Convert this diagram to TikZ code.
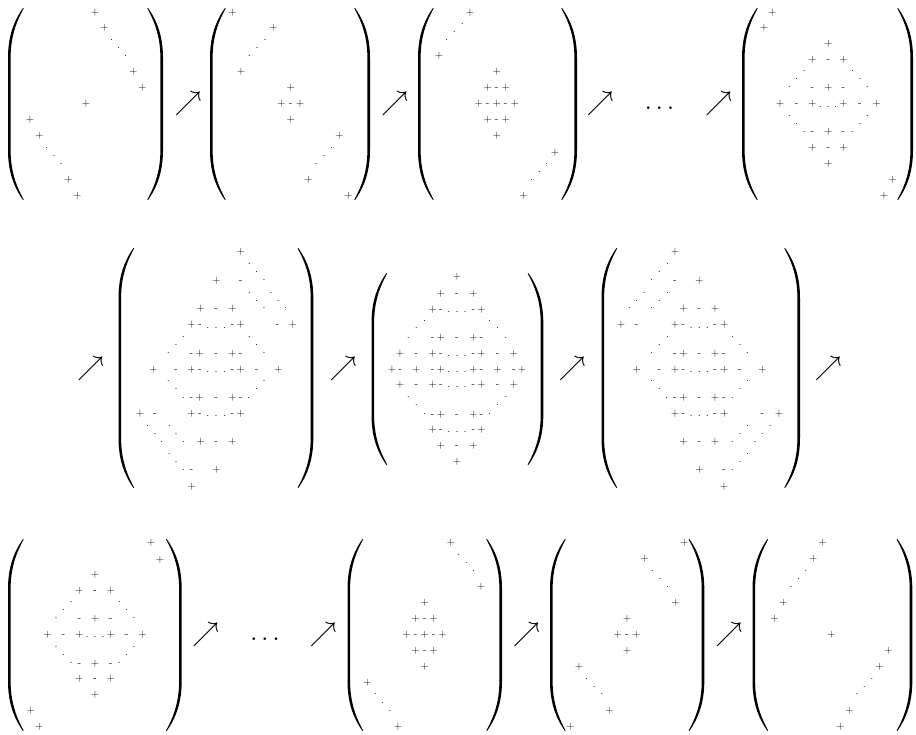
\documentclass[tikz,border=0pt]{standalone}
\usepackage{graphicx}
\tikzset{
  pl/.style    = {inner sep=0pt, font=\fontsize{11}{13}\selectfont,
                  text height=6.41pt, text depth=0.91pt},
  mi/.style    = {inner sep=0pt, font=\fontsize{11}{13}\selectfont,
                  text height=6.41pt, text depth=0.91pt},
  dt/.style    = {inner sep=0pt, font=\fontsize{11}{13}\selectfont,
                  text height=1.17pt, text depth=0pt},
  arr/.style   = {inner sep=0pt},
  ell/.style   = {inner sep=0pt, anchor=base}
}
% big parentheses: outer x, top y, bottom y
\newcommand{\mlpar}[3]{\fill (#1+15,#2) .. controls (#1+5,#2+14) and (#1,#2+30) .. (#1,#2+50)
    -- (#1,#3-50) .. controls (#1,#3-30) and (#1+5,#3-14) .. (#1+15,#3)
    -- (#1+15.7,#3-0.4) .. controls (#1+7.6,#3-15) and (#1+2.6,#3-30) .. (#1+2.6,#3-50)
    -- (#1+2.6,#2+50) .. controls (#1+2.6,#2+30) and (#1+7.6,#2+15) .. (#1+15.7,#2+0.4) -- cycle;}
\newcommand{\mrpar}[3]{\fill (#1-15,#2) .. controls (#1-5,#2+14) and (#1,#2+30) .. (#1,#2+50)
    -- (#1,#3-50) .. controls (#1,#3-30) and (#1-5,#3-14) .. (#1-15,#3)
    -- (#1-15.7,#3-0.4) .. controls (#1-7.6,#3-15) and (#1-2.6,#3-30) .. (#1-2.6,#3-50)
    -- (#1-2.6,#2+50) .. controls (#1-2.6,#2+30) and (#1-7.6,#2+15) .. (#1-15.7,#2+0.4) -- cycle;}
\newcommand{\nea}{\scalebox{2.7}{$\nearrow$}}
\newcommand{\mdots}{\scalebox{2.5}{$\ldots$}}

\begin{document}
\begin{tikzpicture}[x=1pt, y=-1pt]
  \useasboundingbox (0,0) rectangle (916,735);

  % ------------------------------------------------------------- Parentheses
  \mlpar{8}{8}{200}       \mrpar{163}{8}{200}
  \mlpar{210}{8}{200}     \mrpar{370}{8}{200}
  \mlpar{418}{8}{200}     \mrpar{577}{8}{200}
  \mlpar{742}{8}{200}     \mrpar{913}{8}{200}

  \mlpar{118.5}{248}{488} \mrpar{313.3}{248}{488}
  \mlpar{371.5}{273}{465} \mrpar{543.3}{273}{465}
  \mlpar{601.5}{248}{488} \mrpar{800}{248}{488}

  \mlpar{8}{539}{731}     \mrpar{181.7}{539}{731}
  \mlpar{347.5}{539}{731} \mrpar{502}{539}{731}
  \mlpar{550}{539}{731}   \mrpar{704.3}{539}{731}
  \mlpar{752.5}{539}{731} \mrpar{912.3}{539}{731}

  % ------------------------------------------------------------- Arrows and dots
  \node [arr] (a1)  at (188,103.5)   {\nea};
  \node [arr] (a2)  at (394.5,103.5) {\nea};
  \node [arr] (a3)  at (600,103.5)   {\nea};
  \node [ell] (e1)  at (659.5,109.3) {\mdots};
  \node [arr] (a4)  at (718.5,103.5) {\nea};
  \node [arr] (a5)  at (90.5,369)    {\nea};
  \node [arr] (a6)  at (343,369)     {\nea};
  \node [arr] (a7)  at (572,369)     {\nea};
  \node [arr] (a8)  at (828,369)     {\nea};
  \node [arr] (a9)  at (205.5,635)   {\nea};
  \node [ell] (e2)  at (265,640.6)   {\mdots};
  \node [arr] (a10) at (323,635)     {\nea};
  \node [arr] (a11) at (526.4,635)   {\nea};
  \node [arr] (a12) at (728.8,635)   {\nea};

  % ------------------------------------------------------------- Matrix 1
  \foreach \x/\y [count=\i] in {95/12.3, 104.3/28, 133.3/71.7, 142.3/87.7, 86/104.2,
      30/120, 39.3/135.8, 68.3/180, 77.3/195.8}
    \node [pl] (m1p\i) at (\x,\y) {+};
  \foreach \x/\y [count=\i] in {111.7/40, 118.5/47.7, 125.7/55.5, 46.7/147.7,
      54/155.7, 61/163.7}
    \node [dt] (m1d\i) at (\x,\y) {.};

  % ------------------------------------------------------------- Matrix 2
  \foreach \x/\y [count=\i] in {232.3/12.3, 273.3/28, 241/71.7, 290.7/87.7,
      281.3/104.2, 300/104.2, 290.7/120, 339.3/135.8, 308.3/180, 348.3/195.8}
    \node [pl] (m2p\i) at (\x,\y) {+};
  \node [mi] (m2m1) at (290.7,104.2) {-};
  \foreach \x/\y [count=\i] in {265/40, 257/47.7, 249.3/55.5, 331.7/147.7,
      324/155.7, 316/163.7}
    \node [dt] (m2d\i) at (\x,\y) {.};

  % ------------------------------------------------------------- Matrix 3
  \foreach \x/\y [count=\i] in {470/12.3, 439/56, 496.7/71.7, 487.7/87.7, 505.7/87.7,
      478.7/104.2, 496.7/104.2, 514.7/104.2, 487.7/120, 505.7/120, 496.7/136,
      555/152.3, 523.3/195.8}
    \node [pl] (m3p\i) at (\x,\y) {+};
  \foreach \x/\y [count=\i] in {496.7/87.7, 487.7/104.2, 505.7/104.2, 496.7/120}
    \node [mi] (m3m\i) at (\x,\y) {-};
  \foreach \x/\y [count=\i] in {462.3/24, 454.3/32, 446.7/40, 546.7/164,
      539.3/172, 531.7/180}
    \node [dt] (m3d\i) at (\x,\y) {.};

  % ------------------------------------------------------------- Matrix 4
  \foreach \x/\y [count=\i] in {772.3/12.3, 764/28, 828.3/43.3, 812.3/60, 843.3/60,
      828.3/87.3, 780/104.2, 812.3/104.2, 843.3/104.2, 876.7/104.2, 828.3/131.7,
      812.3/147.7, 843.3/147.7, 828.3/163.3, 892.7/180, 884/195.8}
    \node [pl] (m4p\i) at (\x,\y) {+};
  \foreach \x/\y [count=\i] in {828.3/60, 812.3/87.3, 843.3/87.3, 796.7/104.2,
      860/104.2, 812.3/131.7, 843.3/131.7, 828.3/147.7}
    \node [mi] (m4m\i) at (\x,\y) {-};
  \foreach \x/\y [count=\i] in {804.3/70.7, 796.7/79, 789.3/87.3, 852.7/70.7,
      860/79, 867.3/87.3, 820.3/106.5, 828/106.5, 835.7/106.5, 789.3/115.7,
      796.7/124, 804.3/131.7, 867.3/115.7, 860/124, 852.3/131.7}
    \node [dt] (m4d\i) at (\x,\y) {.};

  % ------------------------------------------------------------- Matrix 5
  \foreach \x/\y [count=\i] in {240.7/252, 216.2/281, 200.5/308.3, 232.2/308.3,
      191.3/325, 240.6/325, 292.7/325, 199.8/353.3, 232.4/353.3, 153.3/370,
      191.3/370, 240.6/370, 278.3/370, 199.8/397.7, 232.4/397.7, 140/413.3,
      191.3/413.3, 240.6/413.3, 200.5/441.7, 232.2/441.7, 216.2/470, 191.7/486.7}
    \node [pl] (m5p\i) at (\x,\y) {+};
  \foreach \x/\y [count=\i] in {240.6/281, 216.2/308.3, 199.8/325, 232.4/325,
      277.7/325, 191.3/353.3, 216.2/353.3, 240.6/353.3, 176/370, 199.8/370,
      232.4/370, 256.7/370, 191.3/397.7, 216.2/397.7, 240.6/397.7, 155/413.3,
      199.8/413.3, 232.4/413.3, 216.2/441.7, 191.3/470}
    \node [mi] (m5m\i) at (\x,\y) {-};
  \foreach \x/\y [count=\i] in {249.3/264, 256.7/271.7, 264/280, 271/292.7,
      278.3/300.7, 285.7/308.3, 249.3/292.7, 256.7/300.7, 264/308.3,
      207.9/327.5, 216.2/327.5, 224.5/327.5, 183.3/336.7, 176/345, 168.3/352.7,
      249.3/336.7, 256.7/345, 264/352.7, 207.9/372.3, 216.2/372.3, 224.5/372.3,
      168.3/380.7, 176/389.3, 264/380.7, 256.7/389.3, 183.3/397.7, 248.7/397.7,
      207.9/415.6, 216.2/415.6, 224.5/415.6, 147.7/425.7, 155/434, 161.7/441.7,
      169.3/425.7, 176/434, 183.3/441.7, 169.3/454, 176/461.7, 183.3/470}
    \node [dt] (m5d\i) at (\x,\y) {.};

  % ------------------------------------------------------------- Matrix 6
  \foreach \x/\y [count=\i] in {457/276.7, 440.8/293.3, 473.3/293.3, 432.6/309.3,
      481.4/309.3, 440.8/337.7, 473.3/337.7, 400.1/353.3, 432.6/353.3, 481.4/353.3,
      513.9/353.3, 392/369.3, 416.4/369.3, 440.8/369.3, 473.3/369.3, 497.6/369.3,
      522/369.3, 400.1/385, 432.6/385, 481.4/385, 513.9/385, 440.8/414.3,
      473.3/414.3, 432.6/430, 481.4/430, 440.8/445.7, 473.3/445.7, 457/461.7}
    \node [pl] (m6p\i) at (\x,\y) {+};
  \foreach \x/\y [count=\i] in {457/293.3, 440.8/309.3, 473.3/309.3, 432.6/337.7,
      457/337.7, 481.4/337.7, 416.4/353.3, 440.8/353.3, 473.3/353.3, 497.6/353.3,
      400.1/369.3, 432.6/369.3, 481.4/369.3, 513.9/369.3, 416.4/385, 440.8/385,
      473.3/385, 497.6/385, 432.6/414.3, 457/414.3, 481.4/414.3, 440.8/430,
      473.3/430, 457/445.7}
    \node [mi] (m6m\i) at (\x,\y) {-};
  \foreach \x/\y [count=\i] in {424.5/320.7, 489.5/320.7, 416.4/328.3, 497.6/328.3,
      408.3/337.7, 505.8/337.7, 408.3/396.7, 505.8/396.7, 416.4/405, 497.6/405,
      424.5/414.3, 489.5/414.3}
    \node [dt] (m6d\i) at (\x,\y) {.};
  \foreach \y [count=\j] in {311.6, 355.6, 371.6, 387.3, 432.3}
    \foreach \x [count=\i] in {448.9, 457, 465.1}
      \node [dt] (m6r\j-\i) at (\x,\y) {.};

  % ------------------------------------------------------------- Matrix 7
  \foreach \x/\y [count=\i] in {675/251.7, 699.3/281, 683.3/308.3, 715/308.3,
      621/325, 675/325, 724.3/325, 683.3/353.3, 715/353.3, 636.7/370, 675/370,
      724.3/370, 762.3/370, 683.3/397.7, 715/397.7, 675/413.3, 724.3/413.3,
      779/413.3, 683.3/441.7, 715/441.7, 699.3/470, 724/486.7}
    \node [pl] (m7p\i) at (\x,\y) {+};
  \foreach \x/\y [count=\i] in {675/281, 699.3/308.3, 636.7/325, 683.3/325,
      715/325, 675/353.3, 699.3/353.3, 723.8/353.3, 659.3/370, 683.3/370,
      715/370, 740/370, 675/397.7, 699.3/397.7, 723.8/397.7, 683.3/413.3,
      715/413.3, 762.3/413.3, 699.3/441.7, 724/470}
    \node [mi] (m7m\i) at (\x,\y) {-};
  \foreach \x/\y [count=\i] in {667.7/264, 659.3/271.7, 651.7/280, 644.3/292.7,
      636.7/300.7, 629.3/308.3, 667.7/292.7, 659.3/300.7, 651.7/308.3,
      691.2/327.5, 699.3/327.5, 707.4/327.5, 667.7/336.7, 659.3/345, 651.7/352.7,
      732.7/336.7, 740/345, 747.3/352.7, 691.2/372.3, 699.3/372.3, 707.4/372.3,
      651.7/380.7, 659.3/389.3, 747.7/380.7, 740/389.3, 666.7/397.7, 732.3/397.7,
      691.2/415.6, 699.3/415.6, 707.4/415.6, 770/425.7, 762.3/434, 755/441.7,
      747.7/425.7, 740/434, 732.3/441.7, 747.7/454, 740/461.7, 732.3/470}
    \node [dt] (m7d\i) at (\x,\y) {.};

  % ------------------------------------------------------------- Matrix 8
  \foreach \x/\y [count=\i] in {151/542.7, 160/559.3, 95/574.3, 79.3/590.7,
      110.7/590.7, 95/618.3, 47.7/635, 79.3/635, 110.7/635, 142.3/635, 95/663.3,
      79.3/679, 110.7/679, 95/694.3, 30.7/710.7, 39.3/726.7}
    \node [pl] (m8p\i) at (\x,\y) {+};
  \foreach \x/\y [count=\i] in {95/590.7, 79.3/618.3, 110.7/618.3, 63.3/635,
      126.7/635, 79.3/663.3, 110.7/663.3, 95/679}
    \node [mi] (m8m\i) at (\x,\y) {-};
  \foreach \x/\y [count=\i] in {71/602.3, 63.3/610, 56/618.3, 119.3/602.3,
      126.7/610, 134/618.3, 87/637.3, 95/637.3, 103/637.3, 56/646.7, 63.3/655,
      71/663.3, 134/646.7, 126.7/655, 119/663.3}
    \node [dt] (m8d\i) at (\x,\y) {.};

  % ------------------------------------------------------------- Matrix 9
  \foreach \x/\y [count=\i] in {450.8/542.9, 481/586.7, 424.6/602.7, 415.6/619,
      433.6/619, 406.6/635, 424.6/635, 442.6/635, 415.6/650.7, 433.6/650.7,
      424.6/666.7, 367.3/683, 398/726.7}
    \node [pl] (m9p\i) at (\x,\y) {+};
  \foreach \x/\y [count=\i] in {424.6/619, 415.6/635, 433.6/635, 424.6/650.7}
    \node [mi] (m9m\i) at (\x,\y) {-};
  \foreach \x/\y [count=\i] in {458.8/554.5, 466.4/562.5, 473.5/570.7,
      375.3/694.4, 382.5/702.7, 390/711}
    \node [dt] (m9d\i) at (\x,\y) {.};

  % ------------------------------------------------------------- Matrix 10
  \foreach \x/\y [count=\i] in {684.2/542.7, 644.5/559, 675.4/602.7, 627/619,
      617.7/635, 636.3/635, 627/650.7, 579.1/666.7, 609.4/710.7, 570.2/726.7}
    \node [pl] (m10p\i) at (\x,\y) {+};
  \node [mi] (m10m1) at (627,635) {-};
  \foreach \x/\y [count=\i] in {652.4/570.7, 660/579, 667.6/586.7, 586.6/679,
      594.2/686.7, 601.8/694.3}
    \node [dt] (m10d\i) at (\x,\y) {.};

  % ------------------------------------------------------------- Matrix 11
  \foreach \x/\y [count=\i] in {822.5/542.7, 813.3/559, 783.3/602.7, 774.6/618.3,
      831.3/635, 888.3/650.7, 879.5/666.7, 849.3/710.7, 840.3/726.7}
    \node [pl] (m11p\i) at (\x,\y) {+};
  \foreach \x/\y [count=\i] in {805.8/570.7, 798.6/579, 791/586.7, 871.8/679,
      864.3/686.7, 857.1/694.3}
    \node [dt] (m11d\i) at (\x,\y) {.};

\end{tikzpicture}
\end{document}
